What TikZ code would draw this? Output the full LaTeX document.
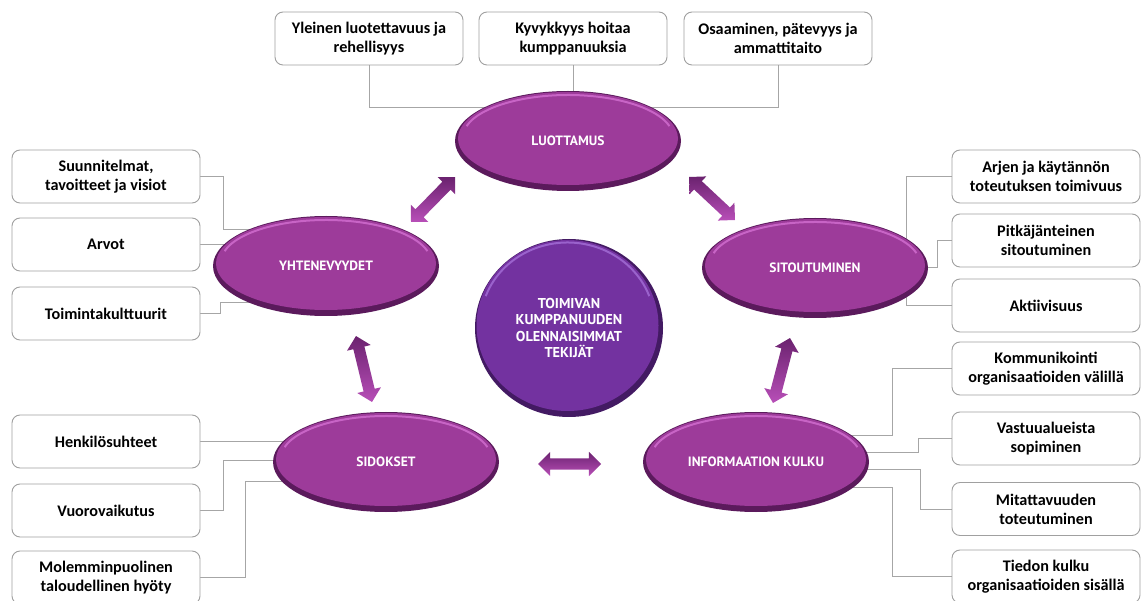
\documentclass[tikz,border=0pt]{standalone}
\usepackage{fontspec}
\setmainfont{Carlito}
\newfontfamily\capsfont{PT Sans}
\usetikzlibrary{shapes.geometric,shapes.arrows,calc}
\pgfdeclarelayer{back}
\pgfsetlayers{back,main}

\definecolor{bubblefill}{HTML}{9D3B9A}
\definecolor{bubblerim}{HTML}{5B1A5C}
\definecolor{bubblehi}{HTML}{C864C6}
\definecolor{corefill}{HTML}{7332A0}
\definecolor{corerim}{HTML}{431A63}
\definecolor{corehi}{HTML}{9A62CC}
\definecolor{arrlight}{HTML}{B84FB8}
\definecolor{arrdark}{HTML}{6B226F}
\definecolor{boxline}{HTML}{A0A0A0}
\definecolor{linkgray}{HTML}{A6A6A6}

% double block arrow between two named points
\newcommand\blockarrow[3]{%
  \path let \p1=($(#3)-(#2)$), \n1={atan2(\y1,\x1)}, \n2={veclen(\x1,\y1)} in
    node[dblarrow, rotate=\n1, minimum height=\n2] (#1) at ($(#2)!0.5!(#3)$) {};}

\begin{document}
\begin{tikzpicture}[x=1pt,y=-1pt,
  leaf/.style={draw=boxline, line width=0.9pt, rounded corners=8pt, fill=white,
    minimum width=188pt, minimum height=53pt, inner sep=2pt, align=center,
    font=\fontsize{16.2}{19}\selectfont\bfseries, text=black},
  link/.style={draw=linkgray, line width=1pt},
  bubble/.style={ellipse, fill=bubblerim, minimum width=226pt, minimum height=100pt,
    inner sep=0pt, text=white, font=\capsfont\bfseries\fontsize{13.5}{15}\selectfont,
    path picture={
      \fill[bubblefill] ([yshift=2.5pt]path picture bounding box.center)
        ellipse [x radius=110pt, y radius=46.5pt];
      \draw[bubblehi, line width=2pt] ([yshift=4pt]path picture bounding box.center)
        ++(165:105pt and 42pt) arc [start angle=165, end angle=15, x radius=105pt, y radius=42pt];
    }},
  core/.style={ellipse, fill=corerim, minimum width=188pt, minimum height=178pt,
    inner sep=0pt, align=center, text=white,
    font=\capsfont\bfseries\fontsize{14.3}{16.3}\selectfont,
    path picture={
      \fill[corefill] ([yshift=2.5pt,xshift=-1.5pt]path picture bounding box.center)
        ellipse [x radius=91pt, y radius=85.5pt];
      \draw[corehi, line width=2pt] ([yshift=4pt,xshift=-1.5pt]path picture bounding box.center)
        ++(160:87pt and 81.5pt) arc [start angle=160, end angle=20, x radius=87pt, y radius=81.5pt];
    }},
  dblarrow/.style={double arrow, double arrow head extend=6.5pt, inner xsep=0pt,
    inner ysep=5.5pt, top color=arrdark, bottom color=arrlight, draw=none}
]
\useasboundingbox (0,0) rectangle (1141,601);

% centre and the five factor ellipses
\node[core] (core) at (569,328) {TOIMIVAN\\KUMPPANUUDEN\\OLENNAISIMMAT\\TEKIJÄT};
\node[bubble] (luo) at (568,141) {LUOTTAMUS};
\node[bubble] (yht) at (326,266) {YHTENEVYYDET};
\node[bubble] (sit) at (815,268) {SITOUTUMINEN};
\node[bubble] (sid) at (386,462) {SIDOKSET};
\node[bubble] (inf) at (756,462) {INFORMAATION KULKU};

% detail boxes
\node[leaf] (t1) at (369,38.5) {Yleinen luotettavuus ja\\rehellisyys};
\node[leaf] (t2) at (573,38.5) {Kyvykkyys hoitaa\\kumppanuuksia};
\node[leaf] (t3) at (778,38.5) {Osaaminen, pätevyys ja\\ammattitaito};
\node[leaf] (l1) at (106,176.5) {Suunnitelmat,\\tavoitteet ja visiot};
\node[leaf] (l2) at (106,244.5) {Arvot};
\node[leaf] (l3) at (106,313.5) {Toimintakulttuurit};
\node[leaf] (l4) at (106,441.5) {Henkilösuhteet};
\node[leaf] (l5) at (106,510.5) {Vuorovaikutus};
\node[leaf] (l6) at (106,577.5) {Molemminpuolinen\\taloudellinen hyöty};
\node[leaf] (r1) at (1046,176.5) {Arjen ja käytännön\\toteutuksen toimivuus};
\node[leaf] (r2) at (1046,240.5) {Pitkäjänteinen\\sitoutuminen};
\node[leaf] (r3) at (1046,305.5) {Aktiivisuus};
\node[leaf] (r4) at (1046,368.5) {Kommunikointi\\organisaatioiden välillä};
\node[leaf] (r5) at (1046,438.5) {Vastuualueista\\sopiminen};
\node[leaf] (r6) at (1046,509) {Mitattavuuden\\toteutuminen};
\node[leaf] (r7) at (1046,576.5) {Tiedon kulku\\organisaatioiden sisällä};

% tree connectors, kept behind the ellipses
\begin{pgfonlayer}{back}
  \draw[link] (t1.south) |- ($(luo.center)+(0,-33)$);
  \draw[link] (t2.south) -- (t2.south |- luo.center);
  \draw[link] (t3.south) |- ($(luo.center)+(0,-33)$);
  \draw[link] (l1.east) -- ++(23,0) |- ($(yht.center)+(0,-36)$);
  \draw[link] (l2.east) -- (l2.east -| yht.center);
  \draw[link] (l3.east) -- ++(20,0) |- ($(yht.center)+(0,37)$);
  \draw[link] (r1.west) -| ($(sit.center)+(91,0)$);
  \draw[link] (r3.west) -| ($(sit.center)+(91,0)$);
  \draw[link] (r2.west) -- ++(-14,0) |- (sit.center);
  \draw[link] (r4.west) -- ++(-59,0) |- ($(inf.center)+(0,-26)$);
  \draw[link] (r5.west) -- ++(-33,0) |- ($(inf.center)+(0,-9)$);
  \draw[link] (r6.west) -- ++(-31,0) |- ($(inf.center)+(0,8)$);
  \draw[link] (r7.west) -- ++(-59,0) |- ($(inf.center)+(0,25)$);
  \draw[link] (l4.east) -- (l4.east -| sid.center);
  \draw[link] (l5.east) -- ++(23,0) |- ($(sid.center)+(0,-1)$);
  \draw[link] (l6.east) -- ++(45,0) |- ($(sid.center)+(0,19)$);
\end{pgfonlayer}

% two-way arrows between neighbouring factors
\coordinate (a1s) at (455,177); \coordinate (a1e) at (411,222);
\coordinate (a2s) at (735,220); \coordinate (a2e) at (689,177);
\coordinate (a3s) at (356,336); \coordinate (a3e) at (372,402);
\coordinate (a4s) at (790,338); \coordinate (a4e) at (773,403);
\coordinate (a5s) at (538,464); \coordinate (a5e) at (601,464);
\blockarrow{luoyht}{a1s}{a1e}
\blockarrow{luosit}{a2s}{a2e}
\blockarrow{yhtsid}{a3s}{a3e}
\blockarrow{sitinf}{a4s}{a4e}
\blockarrow{sidinf}{a5s}{a5e}
\end{tikzpicture}
\end{document}
